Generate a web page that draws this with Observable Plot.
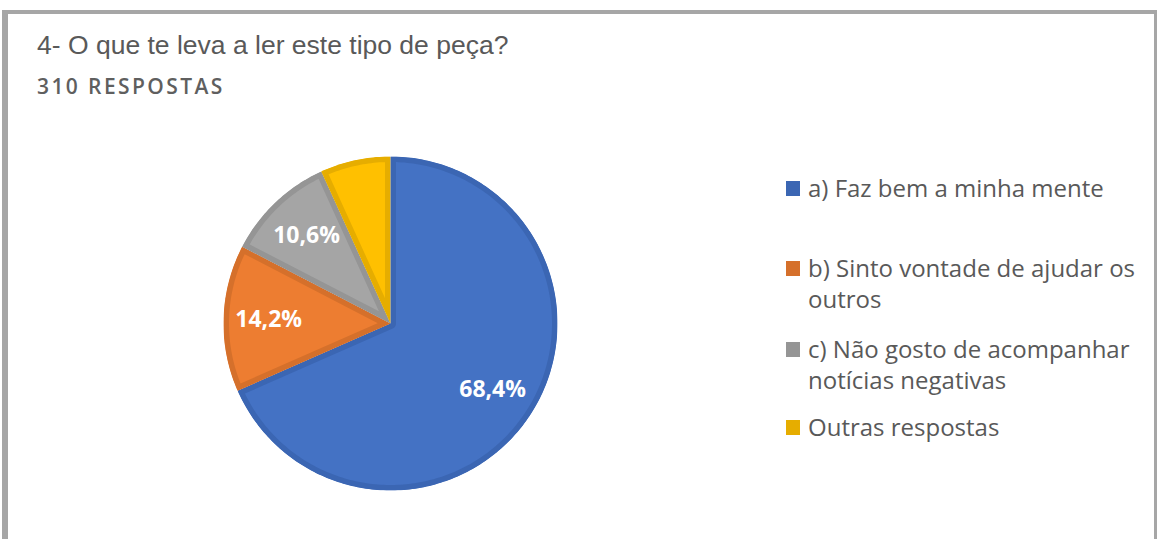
<!DOCTYPE html>
<html>
<head>
<meta charset="utf-8">
<script src="https://cdn.jsdelivr.net/npm/d3@7"></script>
<script src="https://cdn.jsdelivr.net/npm/@observablehq/plot@0.6"></script>
<style>
  html, body { margin: 0; padding: 0; background: #fff; }
  #wrap { position: relative; width: 1157px; height: 539px; overflow: hidden; background: #fff; }
  #frame { position: absolute; left: 2px; top: 10px; width: 1146px; height: 540px;
           border-left: 6px solid #a6a6a6; border-top: 4px solid #a6a6a6; border-right: 3px solid #a6a6a6; }
  #title { position: absolute; left: 37px; top: 30px; font-family: "Liberation Sans", Arial, sans-serif;
           font-size: 26.5px; color: #595959; white-space: nowrap; }
  #subtitle { position: absolute; left: 37px; top: 72px; font-family: "Open Sans", sans-serif; font-weight: 600;
           font-size: 21px; color: #5f5f5f; letter-spacing: 2.4px; white-space: nowrap; }
  #chart { position: absolute; left: 0; top: 0; }
  .leg { position: absolute; left: 786px; font-family: "Open Sans", sans-serif; font-size: 24px; color: #595959; }
  .leg .sw { position: absolute; left: 0; width: 14px; height: 15px; }
  .leg .tx { position: absolute; left: 22px; white-space: pre; line-height: 31px; }
</style>
</head>
<body>
<div id="wrap">
  <div id="frame"></div>
  <div id="title"></div>
  <div id="subtitle"></div>
  <div id="chart"></div>
</div>
<script>
const titleText = "4- O que te leva a ler este tipo de peça?";
const subtitleText = "310 RESPOSTAS";
const categories = [
  "a) Faz bem a minha mente",
  "b) Sinto vontade de ajudar os\noutros",
  "c) Não gosto de acompanhar\nnotícias negativas",
  "Outras respostas"
];
const percentages = [68.4, 14.2, 10.6, 6.8];
const valueLabels = ["68,4%", "14,2%", "10,6%", ""];
const fillColors = ["#4472c4", "#ed7d31", "#a5a5a5", "#ffc000"];
const strokeColors = ["#3b66b3", "#d5702b", "#959595", "#e6ad00"];

document.getElementById("title").textContent = titleText;
document.getElementById("subtitle").textContent = subtitleText;

// Pie geometry from the data (angles clockwise from 12 o'clock)
const arcs = d3.pie().sort(null).value(d => d)(percentages);
const slicePoints = [];
arcs.forEach((a, i) => {
  const key = categories[i];
  slicePoints.push({key, i, x: 0, y: 0});
  const n = Math.max(8, Math.ceil((a.endAngle - a.startAngle) / (2 * Math.PI) * 360));
  for (let k = 0; k <= n; k++) {
    const t = a.startAngle + (a.endAngle - a.startAngle) * k / n;
    slicePoints.push({key, i, x: Math.sin(t), y: Math.cos(t)});
  }
});
const labelR = 0.73;
const labelData = arcs.map((a, i) => {
  const m = (a.startAngle + a.endAngle) / 2;
  return {label: valueLabels[i], x: labelR * Math.sin(m), y: labelR * Math.cos(m)};
}).filter(d => d.label);

const W = 1157, H = 539;
const svg = Plot.plot({
  width: W, height: H,
  marginLeft: 223, marginRight: 600, marginTop: 156, marginBottom: 49,
  x: {domain: [-1, 1], axis: null},
  y: {domain: [-1, 1], axis: null},
  color: {type: "identity"},
  style: {background: "transparent", overflow: "visible"},
  marks: [
    Plot.line(slicePoints, {
      x: "x", y: "y", z: "key", curve: "linear-closed",
      fill: d => fillColors[d.i], stroke: d => strokeColors[d.i], strokeWidth: 11
    }),
    Plot.text(labelData, {
      x: "x", y: "y", text: "label", fill: "white",
      fontSize: 23, fontWeight: "bold", fontFamily: "Open Sans, sans-serif"
    })
  ]
});
// inner stroke: clip each slice to its own outline
const sel = d3.select(svg);
const defs = sel.insert("defs", ":first-child");
sel.selectAll('g[aria-label="line"] path').each(function(_, i) {
  const id = "sliceclip" + i;
  defs.append("clipPath").attr("id", id).append("path").attr("d", this.getAttribute("d"));
  this.setAttribute("clip-path", `url(#${id})`);
});
document.getElementById("chart").appendChild(svg);

// legend
const legendTops = [172, 252, 333, 411];
const wrap = document.getElementById("wrap");
categories.forEach((c, i) => {
  const item = document.createElement("div");
  item.className = "leg";
  item.style.top = legendTops[i] + "px";
  const sw = document.createElement("div");
  sw.className = "sw";
  sw.style.background = strokeColors[i];
  sw.style.top = "9px";
  const tx = document.createElement("div");
  tx.className = "tx";
  tx.textContent = c;
  item.appendChild(sw);
  item.appendChild(tx);
  wrap.appendChild(item);
});
</script>
</body>
</html>
